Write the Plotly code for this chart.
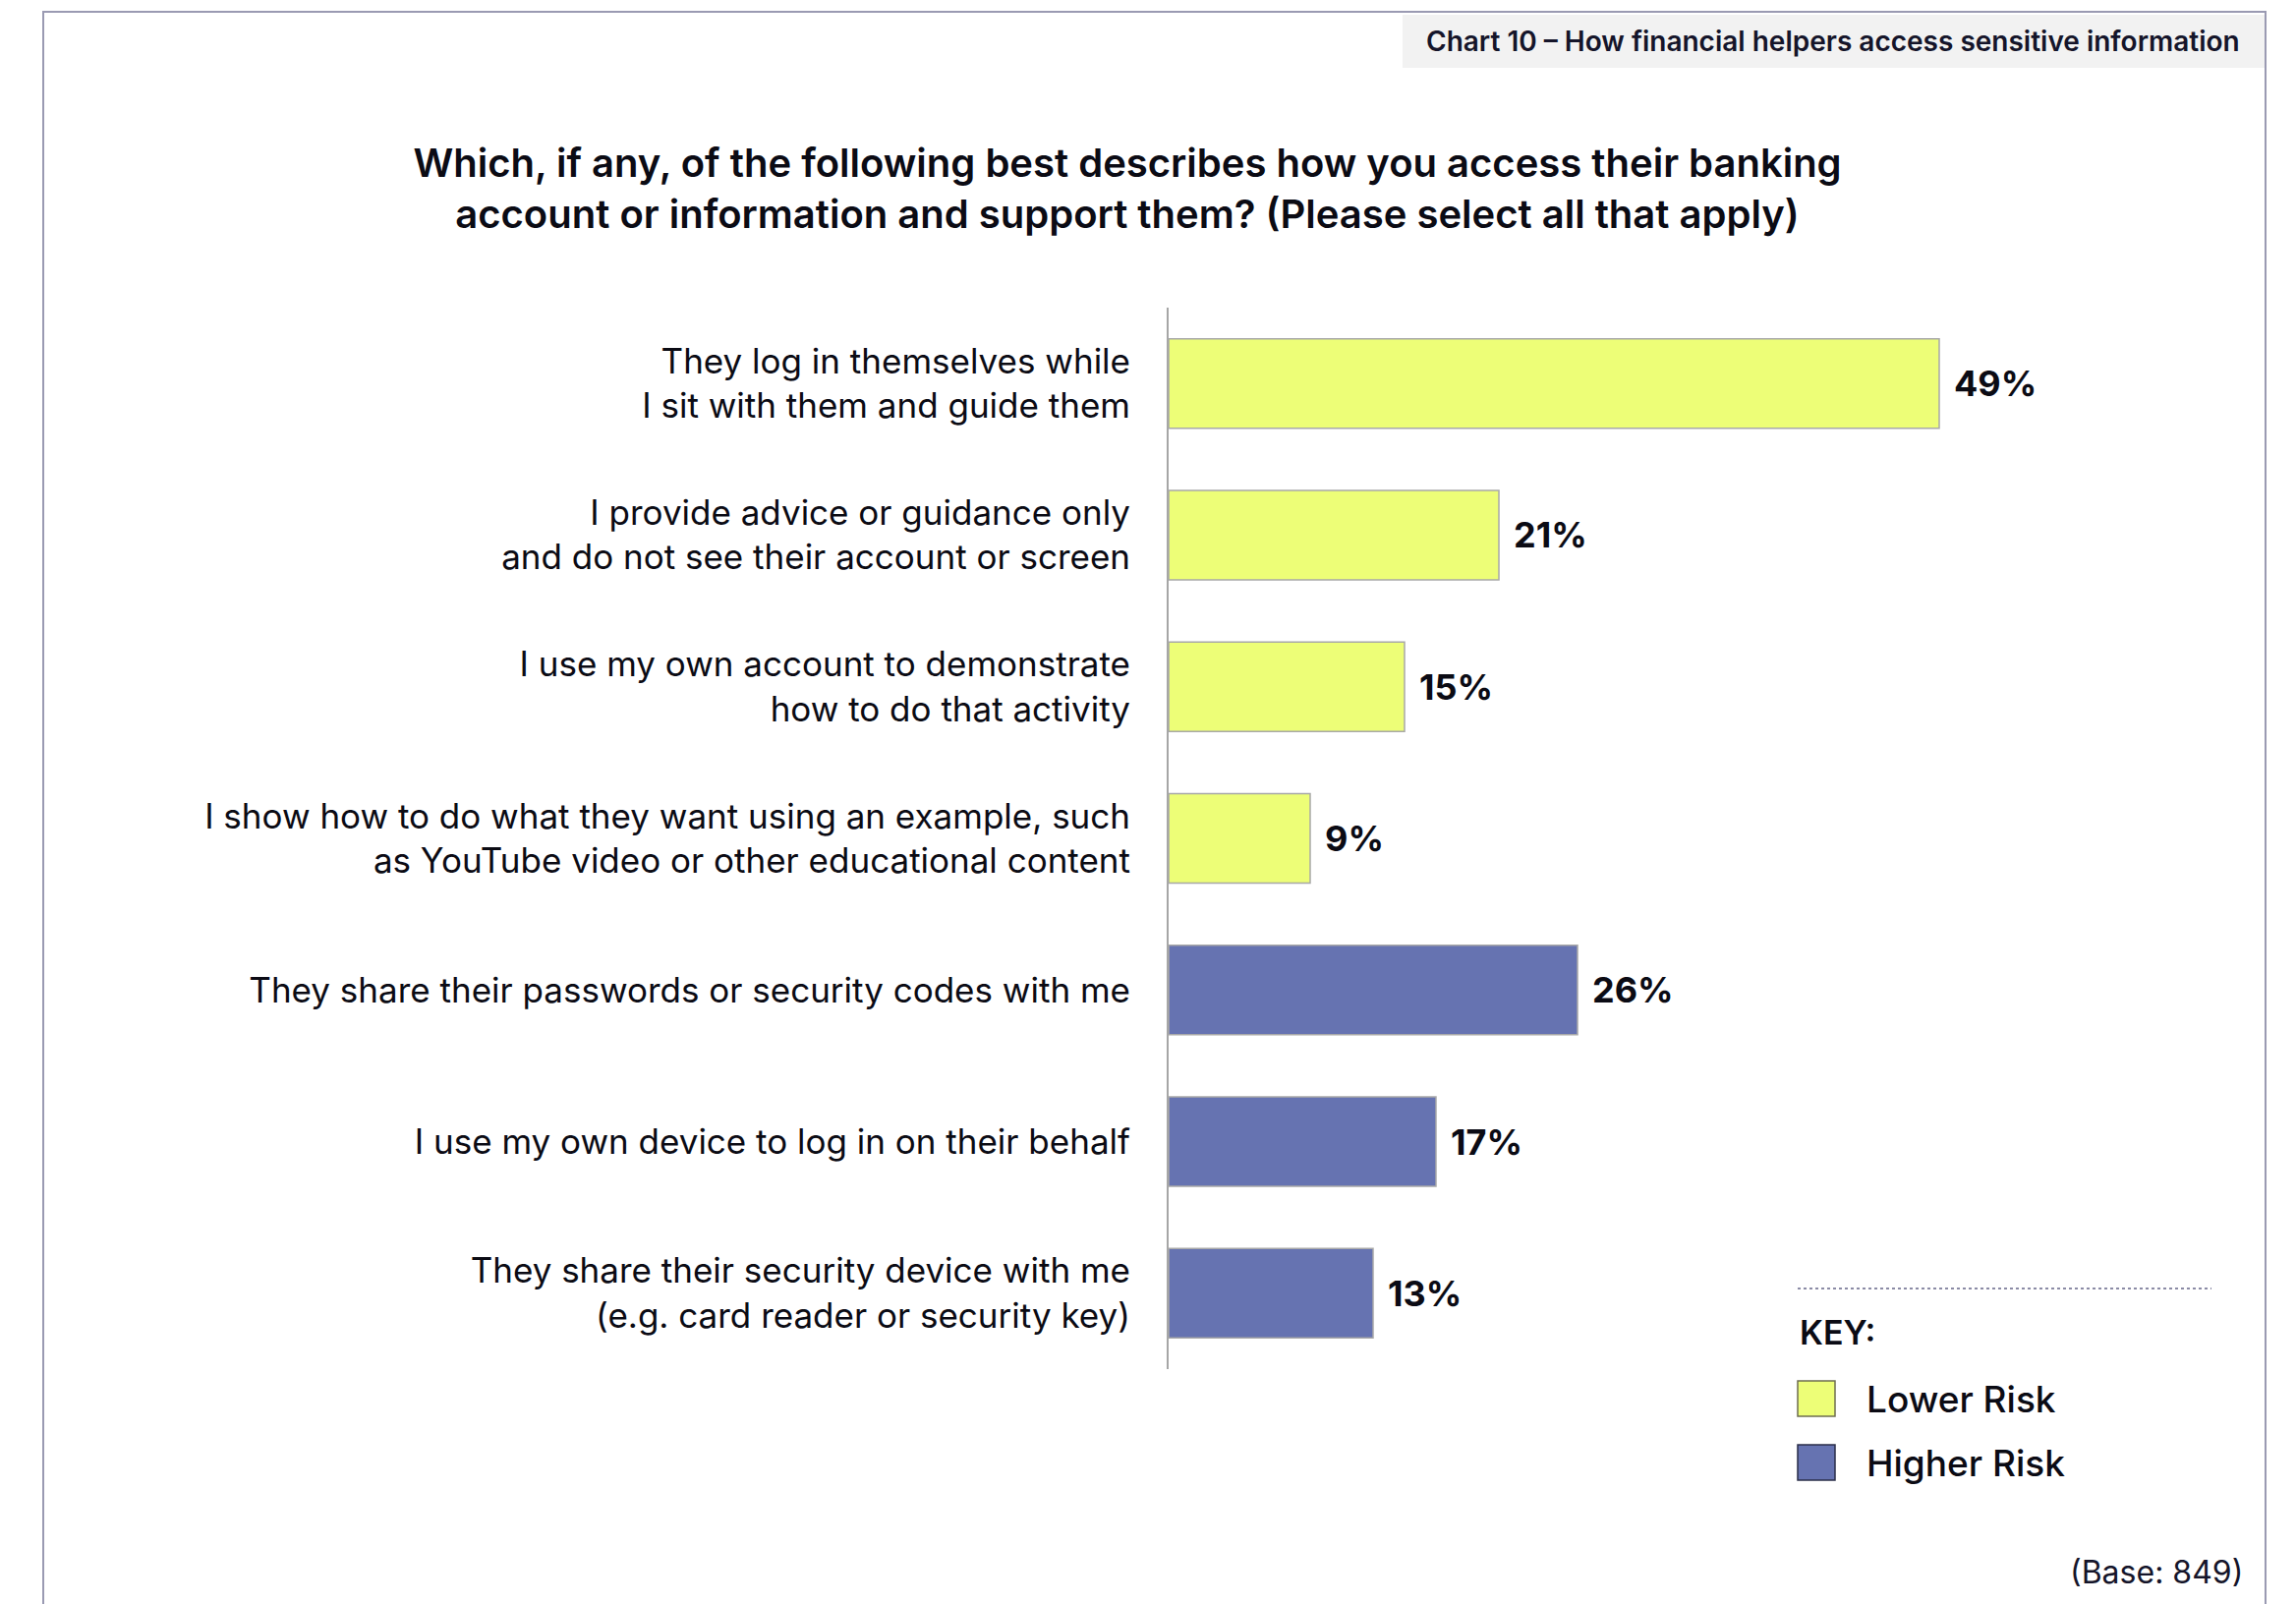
import plotly.graph_objects as go

# Survey responses, listed top to bottom
categories = [
    "They log in themselves while<br>I sit with them and guide them",
    "I provide advice or guidance only<br>and do not see their account or screen",
    "I use my own account to demonstrate<br>how to do that activity",
    "I show how to do what they want using an example, such<br>as YouTube video or other educational content",
    "They share their passwords or security codes with me",
    "I use my own device to log in on their behalf",
    "They share their security device with me<br>(e.g. card reader or security key)",
]
values = [49, 21, 15, 9, 26, 17, 13]
risk = ["Lower Risk", "Lower Risk", "Lower Risk", "Lower Risk",
        "Higher Risk", "Higher Risk", "Higher Risk"]

risk_colors = {"Lower Risk": "#EDFE77", "Higher Risk": "#6673B1"}
risk_outline = {"Lower Risk": "#6E6E50", "Higher Risk": "#2A2E48"}

FONT = "Inter"
INK = "#0B0B14"

# Pixel layout of the plotting area
W, H = 2336, 1632
PL, PR, PT, PB = 1189, 2189, 313, 1393


def px(x):
    return (x - PL) / (PR - PL)


def py(y):
    return (PB - y) / (PB - PT)


fig = go.Figure()
fig.add_trace(go.Bar(
    x=values,
    y=categories,
    orientation="h",
    width=0.59,
    marker=dict(color=[risk_colors[r] for r in risk],
                line=dict(color="#A8A8A8", width=1.5)),
    hoverinfo="skip",
    showlegend=False,
))

annotations = []
# Value labels beside each bar
for cat, v in zip(categories, values):
    annotations.append(dict(
        x=v, y=cat, xref="x", yref="y", text=f"{v}%",
        showarrow=False, xanchor="left", yanchor="middle", xshift=13,
        font=dict(family=FONT, size=36, color=INK, weight=700),
    ))

# Header tab text
annotations.append(dict(
    x=px(1865), y=py(42), xref="paper", yref="paper",
    text="Chart 10 – How financial helpers access sensitive information",
    showarrow=False, xanchor="center", yanchor="middle",
    font=dict(family=FONT, size=28, color="#15152A", weight=600),
))

# Key
annotations.append(dict(
    x=px(1829), y=py(1355), xref="paper", yref="paper", text="KEY:",
    showarrow=False, xanchor="left", yanchor="middle",
    font=dict(family=FONT, size=34, color=INK, weight=600),
))
key_rows = [("Lower Risk", 1423), ("Higher Risk", 1488)]
shapes = []
for label, yc in key_rows:
    annotations.append(dict(
        x=px(1897), y=py(yc), xref="paper", yref="paper", text=label,
        showarrow=False, xanchor="left", yanchor="middle",
        font=dict(family=FONT, size=37, color=INK, weight=500),
    ))
    shapes.append(dict(
        type="rect", xref="paper", yref="paper",
        x0=px(1829), x1=px(1867), y0=py(yc + 18), y1=py(yc - 18),
        fillcolor=risk_colors[label],
        line=dict(color=risk_outline[label], width=1.5),
    ))

# Base note
annotations.append(dict(
    x=px(2284), y=py(1599), xref="paper", yref="paper", text="(Base: 849)",
    showarrow=False, xanchor="right", yanchor="middle",
    font=dict(family=FONT, size=32, color="#15152A"),
))

# Header tab background
shapes.insert(0, dict(
    type="rect", xref="paper", yref="paper",
    x0=px(1427), x1=px(2304), y0=py(69), y1=py(15),
    fillcolor="#F2F2F2", line=dict(width=0), layer="below",
))
# Outer frame (left, top, right)
shapes.append(dict(
    type="path", xref="paper", yref="paper",
    path=(f"M {px(44)} {py(1640)} L {px(44)} {py(12)} "
          f"L {px(2305)} {py(12)} L {px(2305)} {py(1640)}"),
    line=dict(color="#9A9AB2", width=2),
))
# Dotted rule above the key
shapes.append(dict(
    type="line", xref="paper", yref="paper",
    x0=px(1829), x1=px(2250), y0=py(1311), y1=py(1311),
    line=dict(color="#8C8CA6", width=2, dash="dot"),
))

fig.update_layout(
    width=W, height=H,
    margin=dict(l=PL, r=W - PR, t=PT, b=H - PB, autoexpand=False),
    paper_bgcolor="white", plot_bgcolor="white",
    title=dict(
        text=("Which, if any, of the following best describes how you access their banking<br>"
              "account or information and support them? (Please select all that apply)"),
        x=1147 / W, y=1 - 180 / H, xanchor="center", yanchor="middle",
        font=dict(family=FONT, size=40, color=INK, weight=600),
    ),
    xaxis=dict(range=[0, 62.5], visible=False, fixedrange=True),
    yaxis=dict(
        autorange="reversed", showline=True, linecolor="#A6A6A6", linewidth=2,
        showgrid=False, zeroline=False, ticks="", ticklabelstandoff=30,
        tickfont=dict(family=FONT, size=35, color=INK),
        fixedrange=True,
    ),
    annotations=annotations,
    shapes=shapes,
    bargap=0.41,
)

fig.write_html("out.html")
